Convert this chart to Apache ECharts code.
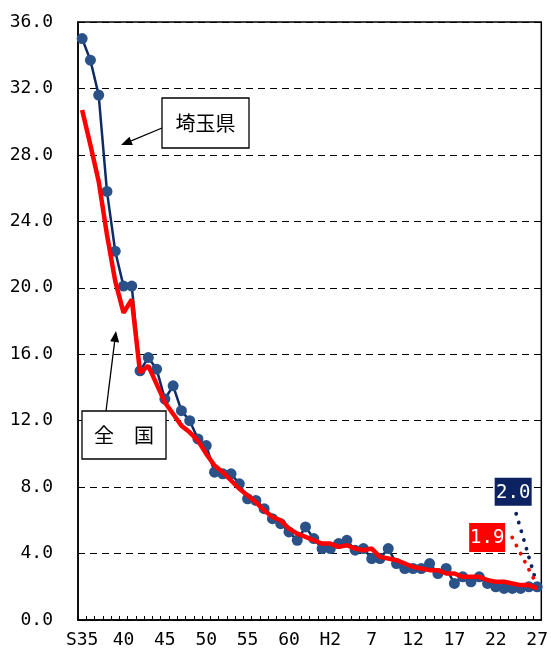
<!DOCTYPE html>
<html>
<head>
<meta charset="utf-8">
<script src="https://cdn.jsdelivr.net/npm/echarts@6/dist/echarts.min.js"></script>
<style>
  html, body { margin: 0; padding: 0; background: #fff; }
  #chart { width: 551px; height: 653px; }
</style>
</head>
<body>
<div id="chart"></div>
<script>
// Years S35 (1960) .. S63, H1 .. H27 (2015)
const categories = [];
for (let y = 35; y <= 63; y++) categories.push('S' + y);
for (let y = 1; y <= 27; y++) categories.push('H' + y);

// Labels printed every fifth year
const tickLabels = ['S35', '40', '45', '50', '55', '60', 'H2', '7', '12', '17', '22', '27'];

// 埼玉県 (per 1,000 births)
const saitama = [
  35.0, 33.7, 31.6, 25.8, 22.2, 20.1, 20.1, 15.0, 15.8, 15.1,
  13.3, 14.1, 12.6, 12.0, 10.9, 10.5, 8.9, 8.8, 8.8, 8.2,
  7.3, 7.2, 6.7, 6.1, 5.8, 5.3, 4.8, 5.6, 4.9, 4.3,
  4.3, 4.6, 4.8, 4.2, 4.3, 3.7, 3.7, 4.3, 3.4, 3.1,
  3.1, 3.1, 3.4, 2.8, 3.1, 2.2, 2.6, 2.3, 2.6, 2.2,
  2.0, 1.9, 1.9, 1.9, 2.0, 2.0
];

// 全国
const national = [
  30.7, 28.6, 26.4, 23.2, 20.4, 18.5, 19.3, 14.9, 15.3, 14.2,
  13.1, 12.4, 11.7, 11.3, 10.8, 10.0, 9.3, 8.9, 8.4, 7.9,
  7.5, 7.1, 6.6, 6.2, 6.0, 5.5, 5.2, 5.0, 4.8, 4.6,
  4.6, 4.4, 4.5, 4.3, 4.2, 4.3, 3.8, 3.7, 3.6, 3.4,
  3.2, 3.1, 3.0, 3.0, 2.8, 2.8, 2.6, 2.6, 2.6, 2.4,
  2.3, 2.3, 2.2, 2.1, 2.1, 1.9
];

const NUM_FONT = '"DejaVu Sans Mono", monospace';
const JP_FONT = '"Noto Sans CJK JP", sans-serif';

const chart = echarts.init(document.getElementById('chart'), null, { renderer: 'canvas' });

chart.setOption({
  animation: false,
  backgroundColor: '#fff',
  grid: {
    left: 78, right: 9, top: 22, bottom: 33,
    show: true, borderColor: '#000', borderWidth: 1.5,
    containLabel: false
  },
  xAxis: {
    type: 'category',
    data: categories,
    boundaryGap: true,
    axisLine: { lineStyle: { color: '#000', width: 1.5 } },
    axisTick: { show: true, inside: true, length: 4, interval: 0, lineStyle: { color: '#000' } },
    axisLabel: {
      interval: 0,
      margin: 11,
      color: '#000',
      fontFamily: NUM_FONT,
      fontSize: 18,
      formatter: (v, i) => (i % 5 === 0 ? tickLabels[i / 5] : '')
    },
    splitLine: { show: false }
  },
  yAxis: {
    type: 'value',
    min: 0, max: 36, interval: 4,
    axisLine: { show: true, lineStyle: { color: '#000', width: 1.5 } },
    axisTick: { show: true, inside: true, length: 3, lineStyle: { color: '#000' } },
    axisLabel: {
      margin: 25,
      color: '#000',
      fontFamily: NUM_FONT,
      fontSize: 18,
      formatter: v => v.toFixed(1)
    },
    splitLine: { show: true, lineStyle: { color: '#000', width: 1.2, type: [7, 5] } }
  },
  series: [
    {
      name: '埼玉県',
      type: 'line',
      data: saitama,
      symbol: 'circle',
      symbolSize: 11,
      itemStyle: { color: '#2a5289' },
      lineStyle: { color: '#0f2b66', width: 2.5 },
      emphasis: { disabled: true },
      z: 2
    },
    {
      name: '全国',
      type: 'line',
      data: national,
      showSymbol: false,
      lineStyle: { color: '#ff0000', width: 4.5 },
      emphasis: { disabled: true },
      z: 3
    }
  ]
});

// Arrow helper: shaft plus filled head at (x2, y2)
function arrow(x1, y1, x2, y2) {
  const a = Math.atan2(y2 - y1, x2 - x1);
  const L = 11, W = 4.5;
  const bx = x2 - L * Math.cos(a), by = y2 - L * Math.sin(a);
  const px = -Math.sin(a) * W, py = Math.cos(a) * W;
  return [
    { type: 'line', shape: { x1, y1, x2: bx, y2: by }, style: { stroke: '#000', lineWidth: 1.3 }, z: 20 },
    { type: 'polygon', shape: { points: [[x2, y2], [bx + px, by + py], [bx - px, by - py]] }, style: { fill: '#000' }, z: 20 }
  ];
}

function calloutBox(x, y, w, h, text) {
  return [
    { type: 'rect', shape: { x, y, width: w, height: h }, style: { fill: '#fff', stroke: '#000', lineWidth: 1.3 }, z: 20 },
    { type: 'text', x: x + w / 2, y: y + h / 2, style: { text, fill: '#000', font: '20px ' + JP_FONT, align: 'center', verticalAlign: 'middle' }, z: 21 }
  ];
}

// Value tags for the latest year, tied back to the last point by a dotted leader
const last = categories.length - 1;
const pB = chart.convertToPixel({ seriesIndex: 0 }, [last, saitama[last]]);
const pR = chart.convertToPixel({ seriesIndex: 1 }, [last, national[last]]);

function valueTag(p, dx, dy, w, h, color, value, lx, ly) {
  const cx = p[0] + dx, cy = p[1] + dy;
  return [
    { type: 'line', shape: { x1: cx + lx, y1: cy + ly, x2: p[0] - 1, y2: p[1] - 5 },
      style: { stroke: color, lineWidth: 3.8, lineDash: [0.1, 9], lineCap: 'round' }, z: 15 },
    { type: 'rect', shape: { x: cx - w / 2, y: cy - h / 2, width: w, height: h }, style: { fill: color }, z: 16 },
    { type: 'text', x: cx, y: cy + 1, style: { text: value.toFixed(1), fill: '#fff', font: '19px ' + NUM_FONT, align: 'center', verticalAlign: 'middle' }, z: 17 }
  ];
}

const graphics = [].concat(
  calloutBox(162, 98, 87, 50, '埼玉県'),
  arrow(162, 128, 121, 145),
  calloutBox(82, 411, 84, 48, '全\u3000国'),
  arrow(106, 411, 116, 331),
  valueTag(pB, -24, -95, 37, 28, '#0d2260', saitama[last], 3, 22),
  valueTag(pR, -50, -51, 36, 29, '#ff0000', national[last], 25, 0)
);

chart.setOption({ graphic: graphics });
</script>
</body>
</html>
